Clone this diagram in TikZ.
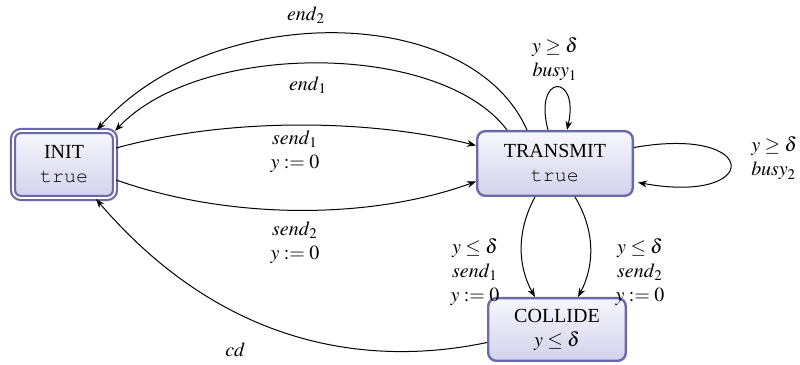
\documentclass[tikz,border=0pt]{standalone}
\usepackage{mathptmx}
\usepackage{fontspec}
\setmainfont{Liberation Serif}
\usetikzlibrary{arrows.meta,calc}
\definecolor{stateline}{RGB}{106,106,170}
\definecolor{statetop}{RGB}{247,247,253}
\definecolor{statebot}{RGB}{210,210,236}
\newcommand{\inv}[1]{{\usefont{OT1}{pcr}{m}{n}#1}}
\begin{document}
\begin{tikzpicture}[x=0.5pt,y=0.5pt,
  state/.style={draw=stateline, line width=1.2pt, rounded corners=4pt,
    top color=statetop, bottom color=statebot, align=center, inner sep=0pt},
  initstate/.style={state, line width=1.1pt, double=white, double distance=0.9pt},
  edge/.style={-{Stealth[length=4.5pt,width=3.4pt]}, line width=0.5pt},
  lbl/.style={align=center, inner sep=0pt}]
\useasboundingbox (0,0) rectangle (800,365);

% locations
\node[initstate, minimum width=51pt, minimum height=33.5pt] (init) at (64,200.5)
  {INIT\\\inv{true}};
\node[state, minimum width=77.8pt, minimum height=32.3pt] (trans) at (555,201.5)
  {TRANSMIT\\\inv{true}};
\node[state, minimum width=68.8pt, minimum height=31.3pt] (coll) at (557,35.5)
  {COLLIDE\\$y\leq\delta$};

% end transitions back to INIT
\draw[edge] ($(trans.north)+(-28,0)$) .. controls (470,364) and (210,364) .. ($(init.north)+(33,0)$);
\draw[edge] ($(trans.north)+(-48,0)$) .. controls (440,324) and (200,324) .. ($(init.north east)+(-1,-1)$);
\node[lbl] (lend2) at (306,350) {$\mathit{end}_2$};
\node[lbl] (lend1) at (308,280) {$\mathit{end}_1$};

% send transitions
\draw[edge] ($(init.east)+(0,16.5)$) .. controls (230,248) and (370,246) .. ($(trans.west)+(0,18)$);
\draw[edge] ($(init.east)+(0,-15.5)$) .. controls (230,145) and (370,145) .. ($(trans.west)+(0,-18)$);
\node[lbl] (lsend1) at (295,213) {$\mathit{send}_1$\\$y:=0$};
\node[lbl] (lsend2) at (295,122) {$\mathit{send}_2$\\$y:=0$};

% busy self loops
\draw[edge] ($(trans.north)+(-7,0)$) .. controls (533,292) and (580,292) .. ($(trans.north)+(12,0)$);
\node[lbl] (lbusy1) at (555,306) {$y\geq\delta$\\$\mathit{busy}_1$};
\draw[edge] ($(trans.east)+(0,16)$) .. controls (762,240) and (762,160) .. ($(trans.east)+(4,-19)$);
\node[lbl, align=left, anchor=west] (lbusy2) at (751,207) {$y\geq\delta$\\$\mathit{busy}_2$};

% collisions
\draw[edge] ($(trans.south)+(-20,0)$) .. controls (517,135) and (517,100) .. ($(coll.north)+(-22,0)$);
\draw[edge] ($(trans.south)+(20,0)$) .. controls (595,135) and (595,100) .. ($(coll.north)+(21,0)$);
\node[lbl] (lcol1) at (475,93) {$y\leq\delta$\\$\mathit{send}_1$\\$y:=0$};
\node[lbl] (lcol2) at (640,93) {$y\leq\delta$\\$\mathit{send}_2$\\$y:=0$};

% collision detected
\draw[edge] ($(coll.west)+(0,-13)$) .. controls (380,0) and (230,10) .. ($(init.south)+(32,0)$);
\node[lbl] (lcd) at (235,15) {$\mathit{cd}$};
\end{tikzpicture}
\end{document}
